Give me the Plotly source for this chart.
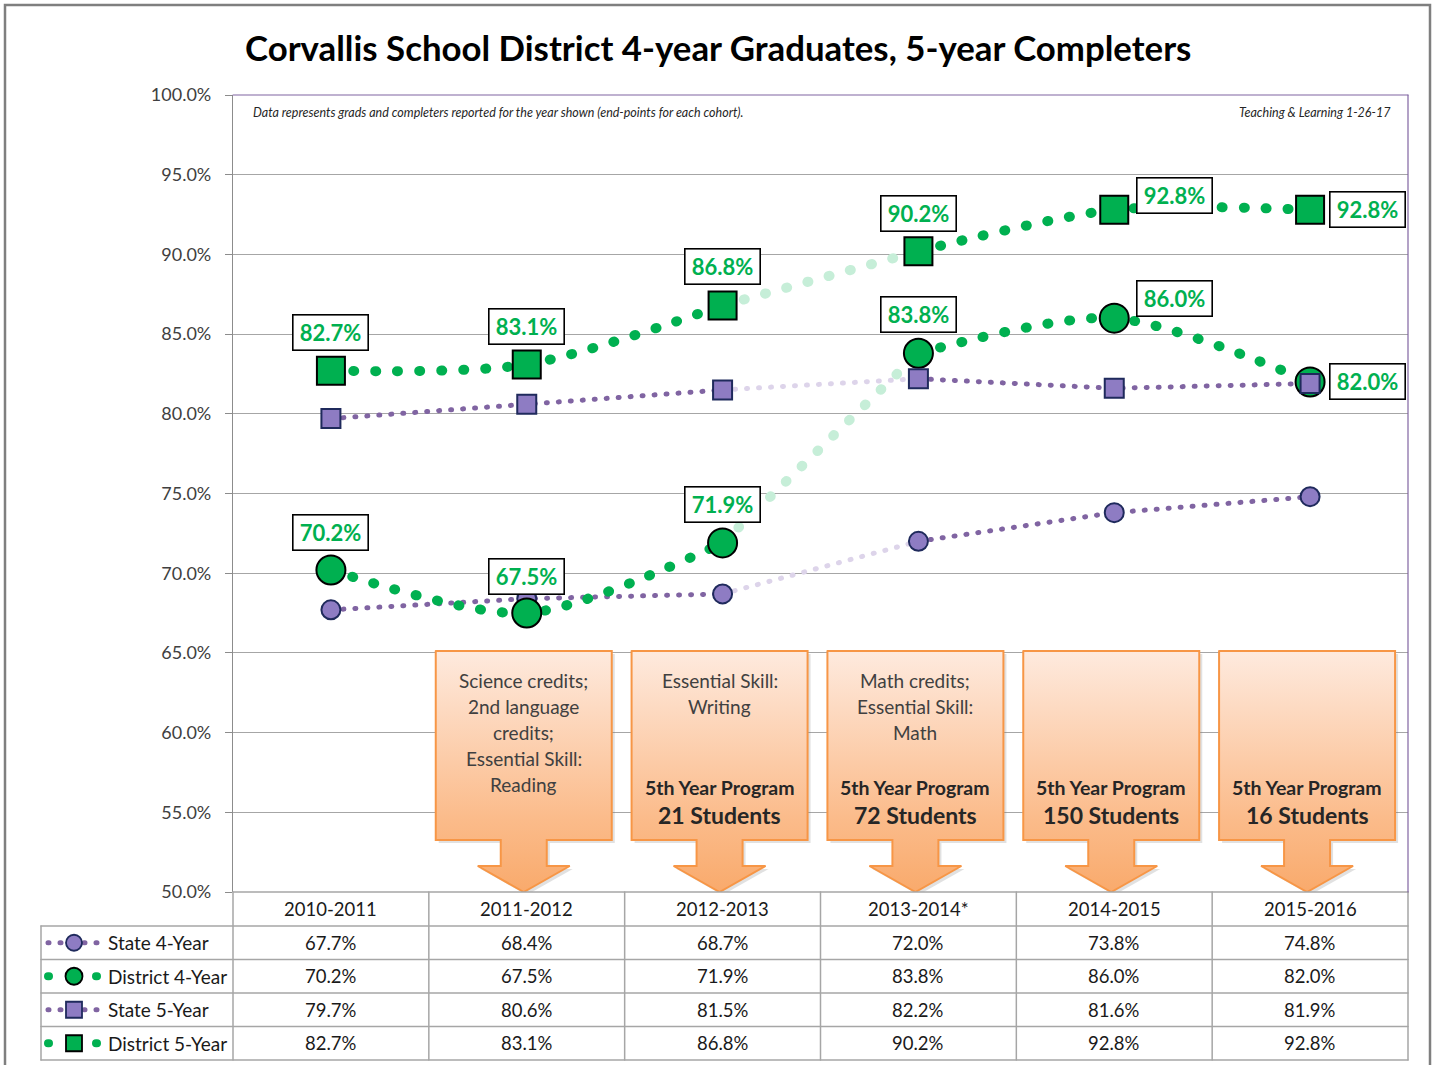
import plotly.graph_objects as go

# ---------------- data ----------------
categories = ["2010-2011", "2011-2012", "2012-2013", "2013-2014*", "2014-2015", "2015-2016"]
state_4yr = [67.7, 68.4, 68.7, 72.0, 73.8, 74.8]
district_4yr = [70.2, 67.5, 71.9, 83.8, 86.0, 82.0]
state_5yr = [79.7, 80.6, 81.5, 82.2, 81.6, 81.9]
district_5yr = [82.7, 83.1, 86.8, 90.2, 92.8, 92.8]
series_names = ["State 4-Year", "District 4-Year", "State 5-Year", "District 5-Year"]
y_tick_values = [50, 55, 60, 65, 70, 75, 80, 85, 90, 95, 100]

callout_notes = [
    [],
    ["Science credits;", "2nd language", "credits;", "Essential Skill:", "Reading"],
    ["Essential Skill:", "Writing"],
    ["Math credits;", "Essential Skill:", "Math"],
    [],
    [],
]
program_students = [None, None, 21, 72, 150, 16]

title_text = "Corvallis School District 4-year Graduates, 5-year Completers"
note_left = "Data represents grads and completers reported for the year shown (end-points for each cohort)."
note_right = "Teaching & Learning 1-26-17"

# ---------------- geometry / style ----------------
W, H = 1436, 1065
L, R, T, B = 233, 1408, 95, 892
NCAT = len(categories)
colw = (R - L) / NCAT
FONT = "Lato"

def xp(px):
    return px / W

def yp(py):
    return 1 - py / H

def cx(i):
    return L + (i + 0.5) * colw

def dx(px):
    return (px - L) / colw - 0.5

def dy(py):
    return 50 + (B - py) / (B - T) * 50

GREEN = "#00b050"
GREEN_FADE = "#c6eed8"
PURPLE = "#8064a2"
PURPLE_FADE = "#ddd4ea"
GRID = "#a6a6a6"

styles = [
    dict(color=PURPLE, fade=PURPLE_FADE, width=5, dash="1px,11px", shape="linear",
         symbol="circle", size=19, fill="#8e7cc3", border="#1f2a5c", bw=2, lsize=16,
         lw=5, ldash="1px,11px"),
    dict(color=GREEN, fade=GREEN_FADE, width=10, dash="1px,21px", shape="spline",
         symbol="circle", size=29, fill=GREEN, border="#000000", bw=2, lsize=17,
         lw=8, ldash="1px,23px"),
    dict(color=PURPLE, fade=PURPLE_FADE, width=5, dash="1px,11px", shape="linear",
         symbol="square", size=19, fill="#8e7cc3", border="#1f2a5c", bw=2, lsize=16,
         lw=5, ldash="1px,11px"),
    dict(color=GREEN, fade=GREEN_FADE, width=10, dash="1px,21px", shape="spline",
         symbol="square", size=28, fill=GREEN, border="#000000", bw=2, lsize=16,
         lw=8, ldash="1px,23px"),
]
all_series = [state_4yr, district_4yr, state_5yr, district_5yr]
FADE_FROM = 2  # segment from index 2 to 3 is drawn faded

# label offsets (xshift, yshift) for district data labels
label_offsets = {
    1: [(0, 38), (0, 37), (0, 38), (0, 39), (60, 20), (57, 0)],
    3: [(0, 38), (0, 38), (0, 39), (0, 38), (60, 14), (57, 0)],
}

fig = go.Figure()

# ---------------- callouts (orange boxes with arrows) ----------------
BOX_TOP, BOX_BOT, HEAD_TOP, TIP = 651, 840, 866, 892
BOX_HW, SHAFT_HW, HEAD_HW = 88, 23, 46
for i in range(NCAT):
    if not callout_notes[i] and program_students[i] is None:
        continue
    c = cx(i) - 3
    pts = [
        (c - BOX_HW, BOX_TOP), (c + BOX_HW, BOX_TOP), (c + BOX_HW, BOX_BOT),
        (c + SHAFT_HW, BOX_BOT), (c + SHAFT_HW, HEAD_TOP), (c + HEAD_HW, HEAD_TOP),
        (c, TIP), (c - HEAD_HW, HEAD_TOP), (c - SHAFT_HW, HEAD_TOP),
        (c - SHAFT_HW, BOX_BOT), (c - BOX_HW, BOX_BOT), (c - BOX_HW, BOX_TOP),
    ]
    fig.add_trace(go.Scatter(
        x=[dx(p[0] + 3) for p in pts], y=[dy(p[1] + 3) for p in pts],
        mode="lines", fill="toself", fillcolor="rgba(120,120,120,0.22)",
        line=dict(width=0), hoverinfo="skip", showlegend=False))
    fig.add_trace(go.Scatter(
        x=[dx(p[0]) for p in pts], y=[dy(p[1]) for p in pts],
        mode="lines", fill="toself",
        fillgradient=dict(type="vertical",
                          colorscale=[[0, "#f9aa6c"], [0.3, "#fbbb8a"], [1, "#feeade"]],
                          start=dy(TIP), stop=dy(BOX_TOP)),
        line=dict(color="#f79646", width=2), hoverinfo="skip", showlegend=False))

# ---------------- lines ----------------
for s, vals in enumerate(all_series):
    st = styles[s]
    segs = [(0, FADE_FROM + 1, st["color"]), (FADE_FROM, FADE_FROM + 2, st["fade"]),
            (FADE_FROM + 1, NCAT, st["color"])]
    for a, b, col in segs:
        xs = list(range(a, b))
        fig.add_trace(go.Scatter(
            x=xs, y=vals[a:b], mode="lines",
            line=dict(color=col, width=st["width"], dash=st["dash"], shape=st["shape"],
                      smoothing=0.8),
            hoverinfo="skip", showlegend=False))

# ---------------- markers ----------------
for s, vals in enumerate(all_series):
    st = styles[s]
    fig.add_trace(go.Scatter(
        x=list(range(NCAT)), y=vals, mode="markers", name=series_names[s],
        marker=dict(symbol=st["symbol"], size=st["size"], color=st["fill"],
                    line=dict(color=st["border"], width=st["bw"])),
        showlegend=False))

annotations = []
shapes = []

# ---------------- data labels ----------------
for s, offs in label_offsets.items():
    vals = all_series[s]
    for i, v in enumerate(vals):
        xs, ys = offs[i]
        annotations.append(dict(
            x=i, y=v, xref="x", yref="y", text=f"{v:.1f}%", showarrow=False,
            xshift=xs, yshift=ys,
            font=dict(family=FONT, size=22, color=GREEN, weight="bold"),
            bgcolor="white", bordercolor="black", borderwidth=1.6, borderpad=3,
            width=68, height=28))

# ---------------- callout texts ----------------
for i in range(NCAT):
    c = cx(i) - 3
    for k, line in enumerate(callout_notes[i]):
        annotations.append(dict(
            x=xp(c), y=yp(680 + k * 26.2), xref="paper", yref="paper", text=line,
            showarrow=False, xanchor="center", yanchor="middle",
            font=dict(family=FONT, size=19, color="#404040")))
    if program_students[i] is not None:
        annotations.append(dict(
            x=xp(c), y=yp(787), xref="paper", yref="paper", text="5th Year Program",
            showarrow=False, xanchor="center", yanchor="middle",
            font=dict(family=FONT, size=19.5, color="#262626", weight="bold")))
        annotations.append(dict(
            x=xp(c), y=yp(815), xref="paper", yref="paper",
            text=f"{program_students[i]} Students",
            showarrow=False, xanchor="center", yanchor="middle",
            font=dict(family=FONT, size=23, color="#262626", weight="bold")))

# ---------------- table ----------------
HEADER_Y = 909
ROW_TOP = 926
ROW_H = 33.5
LEG_L = 41
for i, cat in enumerate(categories):
    annotations.append(dict(
        x=xp(cx(i)), y=yp(HEADER_Y), xref="paper", yref="paper", text=cat,
        showarrow=False, xanchor="center", yanchor="middle",
        font=dict(family=FONT, size=18.5, color="#1a1a1a")))
for s, vals in enumerate(all_series):
    yc = ROW_TOP + (s + 0.5) * ROW_H
    for i, v in enumerate(vals):
        annotations.append(dict(
            x=xp(cx(i)), y=yp(yc), xref="paper", yref="paper", text=f"{v:.1f}%",
            showarrow=False, xanchor="center", yanchor="middle",
            font=dict(family=FONT, size=18.5, color="#1a1a1a")))
    annotations.append(dict(
        x=xp(106), y=yp(yc), xref="paper", yref="paper", text=series_names[s],
        showarrow=False, xanchor="left", yanchor="middle",
        font=dict(family=FONT, size=19, color="#1a1a1a")))
    st = styles[s]
    shapes.append(dict(type="line", xref="paper", yref="paper",
                       x0=xp(48), x1=xp(100), y0=yp(yc), y1=yp(yc),
                       line=dict(color=st["color"], width=st["lw"], dash=st["ldash"])))
    hs = st["lsize"] / 2
    shapes.append(dict(type="circle" if st["symbol"] == "circle" else "rect",
                       xref="paper", yref="paper",
                       x0=xp(74 - hs), x1=xp(74 + hs), y0=yp(yc - hs), y1=yp(yc + hs),
                       fillcolor=st["fill"], line=dict(color=st["border"], width=1.8)))

n_rows = len(all_series)
table_bottom = ROW_TOP + n_rows * ROW_H
for r in range(n_rows + 1):
    yy = ROW_TOP + r * ROW_H
    shapes.append(dict(type="line", xref="paper", yref="paper",
                       x0=xp(LEG_L), x1=xp(R), y0=yp(yy), y1=yp(yy),
                       line=dict(color=GRID, width=1.5)))
shapes.append(dict(type="line", xref="paper", yref="paper",
                   x0=xp(L), x1=xp(R), y0=yp(B), y1=yp(B), line=dict(color=GRID, width=1.5)))
for k in range(NCAT + 1):
    xx = L + k * colw
    shapes.append(dict(type="line", xref="paper", yref="paper",
                       x0=xp(xx), x1=xp(xx), y0=yp(B), y1=yp(table_bottom),
                       line=dict(color=GRID, width=1.5)))
shapes.append(dict(type="line", xref="paper", yref="paper",
                   x0=xp(LEG_L), x1=xp(LEG_L), y0=yp(ROW_TOP), y1=yp(table_bottom),
                   line=dict(color=GRID, width=1.5)))

# plot area border (top and right purple)
shapes.append(dict(type="line", xref="paper", yref="paper",
                   x0=xp(L), x1=xp(R), y0=yp(T), y1=yp(T), line=dict(color="#8064a2", width=1.2)))
shapes.append(dict(type="line", xref="paper", yref="paper",
                   x0=xp(R), x1=xp(R), y0=yp(T), y1=yp(B), line=dict(color="#8064a2", width=1.2)))
# outer frame
shapes.append(dict(type="rect", xref="paper", yref="paper",
                   x0=xp(5), x1=xp(1430), y0=yp(5), y1=yp(1080),
                   line=dict(color="#7f7f7f", width=2.5), fillcolor="rgba(0,0,0,0)"))

# title and notes
annotations.append(dict(x=xp(718), y=yp(47), xref="paper", yref="paper", text=title_text,
                        showarrow=False, xanchor="center", yanchor="middle",
                        font=dict(family=FONT, size=34.8, color="#000000", weight="bold")))
annotations.append(dict(x=xp(251), y=yp(112), xref="paper", yref="paper", text=f"<i>{note_left}</i>",
                        showarrow=False, xanchor="left", yanchor="middle",
                        font=dict(family=FONT, size=12.5, color="#262626")))
annotations.append(dict(x=xp(1393), y=yp(112), xref="paper", yref="paper", text=f"<i>{note_right}</i>",
                        showarrow=False, xanchor="right", yanchor="middle",
                        font=dict(family=FONT, size=12.5, color="#262626")))

fig.update_layout(
    width=W, height=H, margin=dict(l=0, r=0, t=0, b=0, pad=0, autoexpand=False),
    paper_bgcolor="white", plot_bgcolor="white", showlegend=False,
    xaxis=dict(domain=[xp(L), xp(R)], range=[-0.5, NCAT - 0.5], showticklabels=False,
               showgrid=False, zeroline=False, showline=False, ticks="", automargin=False,
               tickvals=list(range(NCAT)), ticktext=categories, fixedrange=True),
    yaxis=dict(domain=[yp(B), yp(T)], range=[50, 100], tickvals=y_tick_values,
               ticktext=[f"{v:.1f}%" for v in y_tick_values], automargin=False,
               showgrid=True, gridcolor=GRID, gridwidth=1, zeroline=False,
               showline=True, linecolor="#8c8c8c", linewidth=1.2,
               ticks="outside", ticklen=7, tickcolor="#8c8c8c", ticklabelstandoff=10,
               tickfont=dict(family=FONT, size=18, color="#404040"), fixedrange=True),
    annotations=annotations, shapes=shapes,
)

post = (
    "var s=document.createElement('style');"
    "s.textContent='html,body{margin:0 !important;padding:0 !important;overflow:hidden;}"
    " .js-line,.shapelayer path{stroke-linecap:round;}';"
    "document.head.appendChild(s);"
    "var d=document.getElementById('{plot_id}');"
    "if(d){d.style.position='fixed';d.style.top='0px';d.style.left='0px';}"
    "if(d&&d.parentElement){d.parentElement.style.lineHeight='0';d.parentElement.style.fontSize='0';}"
)

fig.write_html("out.html", post_script=post, config={"displayModeBar": False})
